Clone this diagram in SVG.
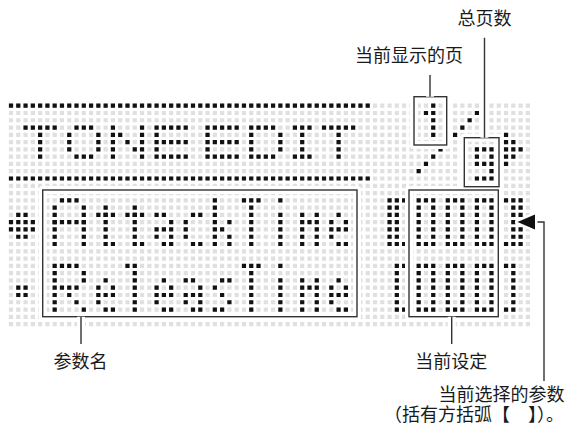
<svg xmlns="http://www.w3.org/2000/svg" width="566" height="428" viewBox="0 0 566 428">
<style>
.g{fill:none;stroke:#e0e0e0;stroke-width:.577;stroke-dasharray:.577 .423}
.k{fill:none;stroke:#111;stroke-width:.577;stroke-dasharray:.577 .423}
.halo{fill:none;stroke:#fff;stroke-width:8;stroke-linejoin:round}
.ln{fill:none;stroke:#333;stroke-width:1.4}
.tri{fill:#111;stroke:#fff;stroke-width:5;stroke-linejoin:round;paint-order:stroke}
text{font-family:"Noto Sans CJK SC","Noto Sans",sans-serif;font-size:18px;fill:#1a1a1a}
</style>
<rect width="566" height="428" fill="#fff"/>
<g id="lcd">
<path id="grid" class="g" transform="translate(8.9 105.7) scale(7.28)" d="M0 0H72M0 1H72M0 2H72M0 3H72M0 4H72M0 5H72M0 6H72M0 7H72M0 8H72M0 9H72M0 10H72M0 11H72M0 12H72M0 13H72M0 14H72M0 15H72M0 16H72M0 17H72M0 18H72M0 19H72M0 20H72M0 21H72M0 22H72M0 23H72M0 24H72M0 25H72M0 26H72M0 27H72M0 28H72M0 29H72M0 30H72"/>
<g id="title">
<path class="k" transform="translate(8.9 105.7) scale(7.28)" d="M0 0H50M0 10H50M2 3H7M9 3H12M9 7H12M15 4H16M16 5H17M17 6H18M20 3H25M20 5H25M20 7H25M20 4H21M20 6H21M27 3H32M27 5H32M27 7H32M27 4H28M27 6H28M33 3H37M33 7H37M39 3H42M39 7H42M43 3H48"/>
<path class="k" transform="translate(11 103.6) scale(7.28)" d="M4 4V8M8 4V7M12 4V7M14 3V8M18 3V8M33 4V7M37 4V7M40 4V7M45 4V8"/>
</g>
<g id="page">
<path class="k" transform="translate(8.9 105.7) scale(7.28)" d="M57 1H58M64 1H65M63 2H64M62 3H63M61 4H62M60 5H61M59 6H60M58 7H59M57 8H58M56 9H57M64 6H67M64 7H65M66 7H67M64 8H67M66 9H67M64 10H67M70 6H71"/>
<path class="k" transform="translate(11 103.6) scale(7.28)" d="M58 0V5M68 4V9M69 5V8"/>
</g>
<g id="cursor">
<path class="k" transform="translate(8.9 105.7) scale(7.28)" d="M1 15H3M0 16H4M0 17H4M1 18H3M1 25H3M1 26H3"/>
</g>
<g id="param-names">
<path class="k" transform="translate(8.9 105.7) scale(7.28)" d="M7 13H10M6 16H11M12 15H15M14 19H15M16 15H19M18 19H19M20 15H22M22 16H23M20 17H23M20 18H21M22 18H23M21 19H23M25 15H27M25 19H27M30 16H31M29 17H30M30 18H31M30 19H31M32 13H35M37 13H38M41 16H42M45 15H46M44 16H45M46 16H47M44 17H47M44 18H45M45 19H47M6 22H10M10 23H11M10 24H11M7 25H10M8 26H9M9 27H10M10 28H11M13 24H14M12 25H13M14 25H15M12 26H15M12 27H13M13 28H15M16 22H18M21 24H22M20 25H21M22 25H23M20 26H23M20 27H21M21 28H23M24 24H26M26 25H27M24 26H27M24 27H25M26 27H27M25 28H27M29 24H31M28 25H29M29 26H30M30 27H31M28 28H30M32 22H35M37 22H38M41 25H42M45 24H46M44 25H45M46 25H47M44 26H47M44 27H45M45 28H47"/>
<path class="k" transform="translate(11 103.6) scale(7.28)" d="M6 14V20M10 14V20M13 14V20M17 14V20M24 16V19M28 13V20M33 14V20M37 15V20M40 15V20M42 15V20M6 23V29M17 23V29M33 23V29M37 24V29M40 24V29M42 24V29"/>
</g>
<g id="values">
<path class="k" transform="translate(8.9 105.7) scale(7.28)" d="M52 13H55M52 19H55M56 13H59M56 19H59M60 13H63M60 19H63M64 13H67M64 19H67M68 13H71M68 19H71M53 22H55M53 28H55M56 22H59M56 28H59M60 22H63M60 28H63M64 22H67M64 28H67M68 22H70M68 28H70"/>
<path class="k" transform="translate(11 103.6) scale(7.28)" d="M52 14V19M53 14V19M56 14V19M58 14V19M60 14V19M62 14V19M64 14V19M66 14V19M69 14V19M70 14V19M53 23V28M56 23V28M58 23V28M60 23V28M62 23V28M64 23V28M66 23V28M69 23V28"/>
</g>
</g>
<g id="frames">
<rect class="halo" x="42.7" y="190" width="314.3" height="126.7"/>
<rect class="halo" x="409" y="190" width="89.3" height="126.7"/>
<rect class="halo" x="414" y="96.7" width="32.7" height="48.3"/>
<rect class="halo" x="464.3" y="137.7" width="34.7" height="49"/>
<rect class="ln" x="42.7" y="190" width="314.3" height="126.7"/>
<rect class="ln" x="409" y="190" width="89.3" height="126.7"/>
<rect class="ln" x="414" y="96.7" width="32.7" height="48.3"/>
<rect class="ln" x="464.3" y="137.7" width="34.7" height="49"/>
</g>
<g id="connectors">
<path class="halo" d="M81 316.7V344M451.7 316.7V344M430 75V96.7M484.5 37.7V137.7M535 222H544V381"/>
<path class="ln" d="M81 316.7V344M451.7 316.7V344M430 75V96.7M484.5 37.7V137.7M535 222H544V381"/>
<polygon class="tri" points="517.5,222 535,214.5 535,229.5"/>
</g>
<g id="label-total"><text x="484.5" y="25" text-anchor="middle">总页数</text></g>
<g id="label-page"><text x="409" y="62" text-anchor="middle">当前显示的页</text></g>
<g id="label-name"><text x="80.4" y="368" text-anchor="middle">参数名</text></g>
<g id="label-setting"><text x="451.3" y="368" text-anchor="middle">当前设定</text></g>
<g id="label-selected">
<text x="564.5" y="401" text-anchor="end">当前选择的参数</text>
<text x="384" y="421">（括有方括弧【　】）。</text>
</g>
</svg>
